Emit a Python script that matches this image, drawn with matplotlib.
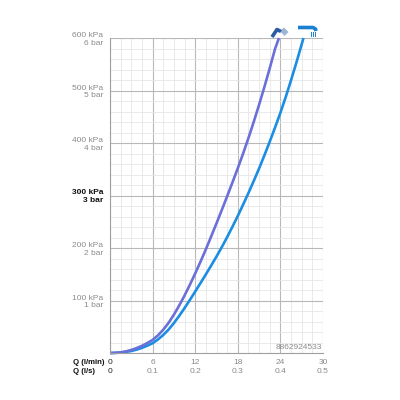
import numpy as np
import matplotlib
matplotlib.use("Agg")
import matplotlib.pyplot as plt
from matplotlib.lines import Line2D
from matplotlib.patches import Polygon

# flow (l/min) and pressure (kPa)
q_shower = [0, 0.75, 1.5, 2.25, 3, 3.75, 4.5, 5.25, 6, 6.75, 7.5, 8.25, 9, 9.75,
            10.5, 11.25, 12, 12.75, 13.5, 14.25, 15, 15.75, 16.5, 17.25, 18,
            18.75, 19.5, 20.25, 21, 21.75, 22.5, 23.25, 23.8]
p_shower = [0, 0.3, 1.3, 3.1, 5.8, 9.3, 13.7, 18.9, 25.0, 33.5, 44.4, 57.4, 73.0, 90.5,
            109.5, 130.0, 151.5, 174.0, 197.5, 222.0, 247.0, 272.5, 298.5, 325.0, 352.0,
            380.0, 409.5, 440.5, 473.0, 507.0, 542.5, 579.5, 600.0]

q_hand = [0, 0.75, 1.5, 2.25, 3, 3.75, 4.5, 5.25, 6, 6.75, 7.5, 8.25, 9, 9.75,
          10.5, 11.25, 12, 12.75, 13.5, 14.25, 15, 15.75, 16.5, 17.25, 18,
          18.75, 19.5, 20.25, 21, 21.75, 22.5, 23.25, 24, 24.75, 25.5, 26.25, 27, 27.25]
p_hand = [0, 0.2, 0.9, 2.0, 3.8, 6.4, 9.8, 13.9, 18.7, 25.7, 34.3, 44.6, 57.0, 70.8,
          85.6, 101.1, 117.1, 133.3, 149.8, 166.6, 183.8, 201.8, 220.8, 240.6, 261.1,
          282.6, 304.8, 327.8, 351.6, 376.6, 402.6, 429.6, 457.6, 487.6, 519.6, 553.1, 588.1, 600.0]

x_ticks = [0, 6, 12, 18, 24, 30]
x_ticks_ls = ["0", "0.1", "0.2", "0.3", "0.4", "0.5"]
y_ticks = [100, 200, 300, 400, 500, 600]
y_labels = ["100 kPa\n1 bar", "200 kPa\n2 bar", "300 kPa\n3 bar",
            "400 kPa\n4 bar", "500 kPa\n5 bar", "600 kPa\n6 bar"]
code = "8862924533"

c_shower = "#6b6fd8"
c_hand = "#1b8de2"
grey = "#8a8a8a"

plt.rcParams['font.family'] = ['Liberation Sans', 'DejaVu Sans']

fig = plt.figure(figsize=(4, 4), dpi=100)
ax = fig.add_axes([0.275, 0.1175, 0.5325, 0.7875])

ax.set_xlim(0, 30)
ax.set_ylim(0, 600)
ax.set_xticks(np.arange(0, 30.1, 1.5), minor=True)
ax.set_yticks(np.arange(0, 601, 20), minor=True)
ax.set_xticks(x_ticks)
ax.set_yticks(y_ticks)
ax.grid(which="minor", color="#e6e6e6", lw=0.6)
ax.grid(which="major", color="#b8b8b8", lw=0.8)
ax.set_axisbelow(True)
for s in ["top", "right"]:
    ax.spines[s].set_visible(False)
ax.spines["left"].set_color("#a0a0a0")
ax.spines["bottom"].set_color("#a0a0a0")
ax.tick_params(which="both", length=0)
ax.tick_params(axis="x", pad=4.5, labelsize=6)
ax.tick_params(axis="y", pad=5, labelsize=6)

ax.set_xticklabels(["%g\n%s" % (a, b) for a, b in zip(x_ticks, x_ticks_ls)],
                   color=grey, linespacing=1.3)
ax.get_xticklabels()[0].set_color("#222222")

ax.set_yticklabels(y_labels, color=grey, ha="right", linespacing=1.15)
for t in ax.get_yticklabels():
    t.set_multialignment("right")
    if t.get_text().startswith("300"):
        t.set_color("#111111")
        t.set_fontweight("bold")

ax.plot(q_hand, p_hand, color=c_hand, lw=1.9, solid_capstyle="butt", clip_on=False)
ax.plot(q_shower, p_shower, color=c_shower, lw=1.9, solid_capstyle="butt", clip_on=False)

ax.text(0.995, 0.006, code, transform=ax.transAxes, ha="right", va="bottom",
        fontsize=6, color=grey)

fig.text(73 / 400, 1 - 367 / 400, "Q (l/min)\nQ (l/s)", ha="left", va="center",
         fontsize=5.6, fontweight="bold", color="#111111", linespacing=1.35)

# small icons above the curve ends
def px(x, y):
    return (x / 400, 1 - y / 400)

arm = [px(272, 37), px(277, 29.5), px(281, 31.5)]
fig.add_artist(Line2D([p[0] for p in arm], [p[1] for p in arm], color="#2b5aa3",
                      lw=2.6, transform=fig.transFigure, solid_capstyle="butt"))
head = Polygon([px(280, 31), px(284, 27.5), px(288.5, 32), px(284.5, 36)],
               closed=True, transform=fig.transFigure, facecolor="#9db4d6",
               edgecolor="none", hatch="////")
fig.add_artist(head)

bar = [px(298, 27.5), px(313, 27.5), px(315.5, 29), px(316, 31)]
fig.add_artist(Line2D([p[0] for p in bar], [p[1] for p in bar], color="#1a7fd0",
                      lw=2.6, transform=fig.transFigure, solid_capstyle="butt"))
for xx in [310.5, 312.8, 315.1]:
    a, b = px(xx, 31.5), px(xx, 36)
    fig.add_artist(Line2D([a[0], b[0]], [a[1], b[1]], color="#1a7fd0", lw=0.7,
                          transform=fig.transFigure))

fig.savefig("out.png", dpi=100, facecolor="white")
